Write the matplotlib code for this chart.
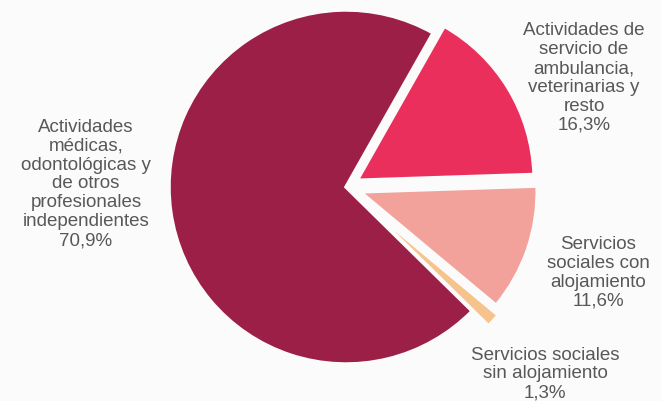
import matplotlib
matplotlib.use("Agg")
import matplotlib.pyplot as plt

labels = [
    "Actividades de\nservicio de\nambulancia,\nveterinarias y\nresto\n16,3%",
    "Servicios\nsociales con\nalojamiento\n11,6%",
    "Servicios sociales\nsin alojamiento\n1,3%",
    "Actividades\nmédicas,\nodontológicas y\nde otros\nprofesionales\nindependientes\n70,9%",
]
values = [16.3, 11.6, 1.3, 70.9]
colors = ["#EA2F5C", "#F2A29A", "#F7C38D", "#9C1F48"]
explode = [13, 15, 22, 0]
label_pos = [(584, 78), (598, 273), (545, 374), (86, 184)]

W, H = 661, 401
fig = plt.figure(figsize=(W / 100, H / 100), dpi=100)
fig.patch.set_facecolor("#FBFBFB")
ax = fig.add_axes([0, 0, 1, 1])
ax.set_facecolor("#FBFBFB")

cx, cy, r = 346, H - 187, 177
ax.pie(values, colors=colors, explode=explode, startangle=60.5,
       counterclock=False, center=(cx, cy), radius=r,
       wedgeprops=dict(edgecolor="#FBFBFB", linewidth=2.5))
ax.set_xlim(0, W)
ax.set_ylim(0, H)
ax.set_aspect("equal")
ax.axis("off")

for txt, (x, y) in zip(labels, label_pos):
    ax.text(x, H - y, txt, ha="center", va="center", fontsize=13.5,
            family="Liberation Sans", color="#585858", linespacing=1.15)

fig.savefig("out.png", dpi=100, facecolor=fig.get_facecolor())
